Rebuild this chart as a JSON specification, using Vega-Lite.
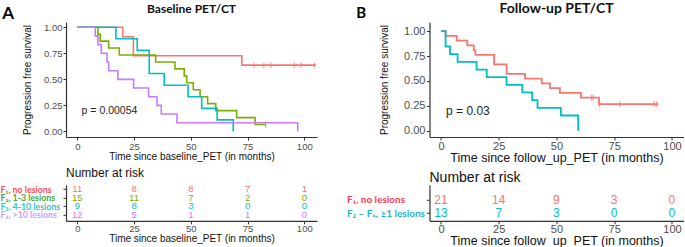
{
  "$schema": "https://vega.github.io/schema/vega-lite/v6.json",
  "background": "white",
  "padding": {"left": 0, "top": 1, "right": 0, "bottom": 0},
  "config": {
    "view": {"stroke": null},
    "font": "Liberation Sans",
    "axis": {"grid": false, "domainColor": "#333333", "domainWidth": 1.2, "tickColor": "#333333", "tickSize": 3, "labelColor": "#4d4d4d", "titleColor": "#111111", "titleFontWeight": "normal", "labelFont": "Liberation Sans", "titleFont": "Liberation Sans", "labelOverlap": false},
    "title": {"font": "Lato", "fontWeight": "bold", "color": "#111111"}
  },
  "columns": 2,
  "spacing": {"row": 47.8, "column": 112.5},
  "bounds": "flush",
  "resolve": {"scale": {"color": "independent", "x": "independent", "y": "independent"}},
  "datasets": {
    "kmA": [
      {"group": "F1", "t": 0, "s": 1}, {"group": "F1", "t": 20, "s": 0.909}, {"group": "F1", "t": 24.7, "s": 0.727}, {"group": "F1", "t": 72.5, "s": 0.636}, {"group": "F1", "t": 105, "s": 0.636},
      {"group": "F2", "t": 0, "s": 1}, {"group": "F2", "t": 9.1, "s": 0.933}, {"group": "F2", "t": 10.1, "s": 0.867}, {"group": "F2", "t": 13.8, "s": 0.8}, {"group": "F2", "t": 18.5, "s": 0.733}, {"group": "F2", "t": 34.5, "s": 0.667}, {"group": "F2", "t": 43, "s": 0.6}, {"group": "F2", "t": 47.1, "s": 0.533}, {"group": "F2", "t": 48.2, "s": 0.467}, {"group": "F2", "t": 51.1, "s": 0.4}, {"group": "F2", "t": 54.1, "s": 0.333}, {"group": "F2", "t": 57.4, "s": 0.267}, {"group": "F2", "t": 61, "s": 0.2}, {"group": "F2", "t": 70.2, "s": 0.133}, {"group": "F2", "t": 78.3, "s": 0.067}, {"group": "F2", "t": 83, "s": 0.067},
      {"group": "F3", "t": 0, "s": 1}, {"group": "F3", "t": 17, "s": 0.889}, {"group": "F3", "t": 26.4, "s": 0.778}, {"group": "F3", "t": 31.7, "s": 0.556}, {"group": "F3", "t": 38.3, "s": 0.444}, {"group": "F3", "t": 48.8, "s": 0.333}, {"group": "F3", "t": 54.8, "s": 0.222}, {"group": "F3", "t": 61.6, "s": 0.111}, {"group": "F3", "t": 68.7, "s": 0},
      {"group": "F4", "t": 0, "s": 1}, {"group": "F4", "t": 7.9, "s": 0.917}, {"group": "F4", "t": 9.1, "s": 0.833}, {"group": "F4", "t": 10.6, "s": 0.75}, {"group": "F4", "t": 13.1, "s": 0.667}, {"group": "F4", "t": 13.8, "s": 0.583}, {"group": "F4", "t": 17.9, "s": 0.5}, {"group": "F4", "t": 24.8, "s": 0.417}, {"group": "F4", "t": 31.4, "s": 0.333}, {"group": "F4", "t": 35.1, "s": 0.25}, {"group": "F4", "t": 37, "s": 0.167}, {"group": "F4", "t": 43.9, "s": 0.083}, {"group": "F4", "t": 97.1, "s": 0}
    ],
    "censA": [
      {"group": "F1", "t": 77.8, "s": 0.636}, {"group": "F1", "t": 82.2, "s": 0.636}, {"group": "F1", "t": 85.3, "s": 0.636}, {"group": "F1", "t": 95.6, "s": 0.636}, {"group": "F1", "t": 98.5, "s": 0.636}, {"group": "F1", "t": 104.5, "s": 0.636},
      {"group": "F2", "t": 83, "s": 0.067}
    ],
    "kmB": [
      {"group": "F1", "t": 0, "s": 1}, {"group": "F1", "t": 2, "s": 0.952}, {"group": "F1", "t": 6.8, "s": 0.905}, {"group": "F1", "t": 11.4, "s": 0.857}, {"group": "F1", "t": 14.2, "s": 0.81}, {"group": "F1", "t": 14.9, "s": 0.762}, {"group": "F1", "t": 23, "s": 0.667}, {"group": "F1", "t": 28.4, "s": 0.571}, {"group": "F1", "t": 36.4, "s": 0.524}, {"group": "F1", "t": 43.6, "s": 0.476}, {"group": "F1", "t": 47.2, "s": 0.429}, {"group": "F1", "t": 51.5, "s": 0.381}, {"group": "F1", "t": 60.6, "s": 0.333}, {"group": "F1", "t": 68.4, "s": 0.267}, {"group": "F1", "t": 94.1, "s": 0.267},
      {"group": "F2-F4", "t": 0, "s": 1}, {"group": "F2-F4", "t": 2, "s": 0.846}, {"group": "F2-F4", "t": 3.9, "s": 0.769}, {"group": "F2-F4", "t": 7.2, "s": 0.692}, {"group": "F2-F4", "t": 15.4, "s": 0.615}, {"group": "F2-F4", "t": 19.8, "s": 0.538}, {"group": "F2-F4", "t": 28.4, "s": 0.462}, {"group": "F2-F4", "t": 35.2, "s": 0.385}, {"group": "F2-F4", "t": 39.5, "s": 0.308}, {"group": "F2-F4", "t": 41.8, "s": 0.231}, {"group": "F2-F4", "t": 51.9, "s": 0.154}, {"group": "F2-F4", "t": 59.4, "s": 0}
    ],
    "censB": [
      {"group": "F1", "t": 65.2, "s": 0.333}, {"group": "F1", "t": 65.9, "s": 0.333}, {"group": "F1", "t": 68.7, "s": 0.267}, {"group": "F1", "t": 77.4, "s": 0.267}, {"group": "F1", "t": 92.3, "s": 0.267}, {"group": "F1", "t": 93.3, "s": 0.267}
    ],
    "riskA": [
      {"group": "F1", "row": 1, "t": 0, "n": 11}, {"group": "F1", "row": 1, "t": 25, "n": 8}, {"group": "F1", "row": 1, "t": 50, "n": 8}, {"group": "F1", "row": 1, "t": 75, "n": 7}, {"group": "F1", "row": 1, "t": 100, "n": 1},
      {"group": "F2", "row": 2, "t": 0, "n": 15}, {"group": "F2", "row": 2, "t": 25, "n": 11}, {"group": "F2", "row": 2, "t": 50, "n": 7}, {"group": "F2", "row": 2, "t": 75, "n": 2}, {"group": "F2", "row": 2, "t": 100, "n": 0},
      {"group": "F3", "row": 3, "t": 0, "n": 9}, {"group": "F3", "row": 3, "t": 25, "n": 8}, {"group": "F3", "row": 3, "t": 50, "n": 3}, {"group": "F3", "row": 3, "t": 75, "n": 0}, {"group": "F3", "row": 3, "t": 100, "n": 0},
      {"group": "F4", "row": 4, "t": 0, "n": 12}, {"group": "F4", "row": 4, "t": 25, "n": 5}, {"group": "F4", "row": 4, "t": 50, "n": 1}, {"group": "F4", "row": 4, "t": 75, "n": 1}, {"group": "F4", "row": 4, "t": 100, "n": 0}
    ],
    "riskB": [
      {"group": "F1", "row": 1, "t": 0, "n": 21}, {"group": "F1", "row": 1, "t": 25, "n": 14}, {"group": "F1", "row": 1, "t": 50, "n": 9}, {"group": "F1", "row": 1, "t": 75, "n": 3}, {"group": "F1", "row": 1, "t": 100, "n": 0},
      {"group": "F2-F4", "row": 2, "t": 0, "n": 13}, {"group": "F2-F4", "row": 2, "t": 25, "n": 7}, {"group": "F2-F4", "row": 2, "t": 50, "n": 3}, {"group": "F2-F4", "row": 2, "t": 75, "n": 0}, {"group": "F2-F4", "row": 2, "t": 100, "n": 0}
    ]
  },
  "concat": [
    {
      "width": 251,
      "height": 115,
      "title": {"text": "Baseline PET/CT", "fontSize": 12, "offset": -11},
      "encoding": {
        "x": {"field": "t", "type": "quantitative", "scale": {"domain": [-4.98, 105.6], "nice": false, "zero": false}, "axis": {"values": [0, 25, 50, 75, 100], "labelFontSize": 9.5, "labelPadding": 1, "titleFontSize": 10, "titlePadding": 1, "title": "Time since baseline_PET (in months)"}},
        "y": {"field": "s", "type": "quantitative", "scale": {"domain": [-0.053, 1.05], "nice": false, "zero": false}, "axis": {"values": [0, 0.25, 0.5, 0.75, 1], "format": ".2f", "labelFontSize": 9.5, "labelPadding": 1, "titleFontSize": 10, "titlePadding": 11, "title": "Progression free survival"}}
      },
      "layer": [
        {
          "data": {"name": "kmA"},
          "mark": {"type": "line", "interpolate": "step-after", "strokeWidth": 1.6},
          "encoding": {"color": {"field": "group", "type": "nominal", "scale": {"domain": ["F1", "F2", "F3", "F4"], "range": ["#F8766D", "#7CAE00", "#00BFC4", "#C77CFF"]}, "legend": null}}
        },
        {
          "data": {"name": "censA"},
          "mark": {"type": "tick", "orient": "vertical", "size": 6, "thickness": 1.2},
          "encoding": {"color": {"field": "group", "type": "nominal", "scale": {"domain": ["F1", "F2", "F3", "F4"], "range": ["#F8766D", "#7CAE00", "#00BFC4", "#C77CFF"]}, "legend": null}}
        },
        {
          "data": {"values": [{"t": 1.9, "s": 0.192, "label": "p = 0.00054"}]},
          "mark": {"type": "text", "align": "left", "baseline": "middle", "fontSize": 10.5, "font": "Liberation Sans", "color": "#222222"},
          "encoding": {"text": {"field": "label"}}
        },
        {
          "data": {"values": [{"t": -30.5, "s": 1.122, "label": "A"}]},
          "mark": {"type": "text", "align": "center", "baseline": "middle", "fontSize": 17, "fontWeight": "bold", "font": "Lato", "color": "#000000"},
          "encoding": {"text": {"field": "label"}}
        }
      ]
    },
    {
      "width": 254,
      "height": 115,
      "title": {"text": "Follow-up PET/CT", "fontSize": 14, "offset": -9.5},
      "encoding": {
        "x": {"field": "t", "type": "quantitative", "scale": {"domain": [-4.97, 105.0], "nice": false, "zero": false}, "axis": {"values": [0, 25, 50, 75, 100], "labelFontSize": 11, "labelPadding": 0, "titleFontSize": 12.5, "titlePadding": 0, "title": "Time since follow_up_PET (in months)"}},
        "y": {"field": "s", "type": "quantitative", "scale": {"domain": [-0.062, 1.092], "nice": false, "zero": false}, "axis": {"values": [0, 0.25, 0.5, 0.75, 1], "format": ".2f", "labelFontSize": 11, "labelPadding": 1.5, "titleFontSize": 10, "titlePadding": 14, "title": "Progression free survival"}}
      },
      "layer": [
        {
          "data": {"name": "kmB"},
          "mark": {"type": "line", "interpolate": "step-after", "strokeWidth": 1.8},
          "encoding": {"color": {"field": "group", "type": "nominal", "scale": {"domain": ["F1", "F2-F4"], "range": ["#F8766D", "#00BFC4"]}, "legend": null}}
        },
        {
          "data": {"name": "censB"},
          "mark": {"type": "tick", "orient": "vertical", "size": 6, "thickness": 1.2},
          "encoding": {"color": {"field": "group", "type": "nominal", "scale": {"domain": ["F1", "F2-F4"], "range": ["#F8766D", "#00BFC4"]}, "legend": null}}
        },
        {
          "data": {"values": [{"t": 2.2, "s": 0.194, "label": "p = 0.03"}]},
          "mark": {"type": "text", "align": "left", "baseline": "middle", "fontSize": 12, "font": "Liberation Sans", "color": "#222222"},
          "encoding": {"text": {"field": "label"}}
        },
        {
          "data": {"values": [{"t": -34.6, "s": 1.182, "label": "B"}]},
          "mark": {"type": "text", "align": "center", "baseline": "middle", "fontSize": 15, "fontWeight": "bold", "font": "Lato", "color": "#000000"},
          "encoding": {"text": {"field": "label"}}
        }
      ]
    },
    {
      "width": 251,
      "height": 36,
      "title": {"text": "Number at risk", "anchor": "start", "frame": "group", "font": "Liberation Sans", "fontWeight": "normal", "fontSize": 12, "offset": 4},
      "data": {"name": "riskA"},
      "mark": {"type": "text", "fontSize": 9.5, "baseline": "middle"},
      "encoding": {
        "x": {"field": "t", "type": "quantitative", "scale": {"domain": [-4.98, 105.6], "nice": false, "zero": false}, "axis": {"values": [0, 25, 50, 75, 100], "labelFontSize": 9.5, "labelPadding": 0, "titleFontSize": 10, "titlePadding": 0, "title": "Time since baseline_PET (in months)"}},
        "y": {"field": "row", "type": "quantitative", "scale": {"domain": [0.484, 4.704], "reverse": true, "nice": false, "zero": false}, "axis": {"values": [1, 2, 3, 4], "title": null, "labelAlign": "left", "labelBaseline": "middle", "labelPadding": 63, "labelLimit": 200, "labelBound": false, "labelFont": "Lato", "labelFontWeight": "bold", "labelFontSize": 8.8,
          "labelExpr": "datum.value == 1 ? 'F₁, no lesions' : datum.value == 2 ? 'F₂, 1-3 lesions' : datum.value == 3 ? 'F₃, 4-10 lesions' : 'F₄, >10 lesions'",
          "labelColor": {"condition": [{"test": "datum.value == 1", "value": "#FF4B5A"}, {"test": "datum.value == 2", "value": "#47A83A"}, {"test": "datum.value == 3", "value": "#2CC3CF"}], "value": "#C9A0FF"}}},
        "text": {"field": "n", "type": "quantitative"},
        "color": {"field": "group", "type": "nominal", "scale": {"domain": ["F1", "F2", "F3", "F4"], "range": ["#F8766D", "#7CAE00", "#00BFC4", "#C77CFF"]}, "legend": null}
      }
    },
    {
      "width": 254,
      "height": 36,
      "title": {"text": "Number at risk", "anchor": "start", "frame": "group", "font": "Liberation Sans", "fontWeight": "normal", "fontSize": 14, "offset": 0},
      "data": {"name": "riskB"},
      "mark": {"type": "text", "fontSize": 12, "baseline": "middle"},
      "encoding": {
        "x": {"field": "t", "type": "quantitative", "scale": {"domain": [-4.97, 105.0], "nice": false, "zero": false}, "axis": {"values": [0, 25, 50, 75, 100], "labelFontSize": 11, "labelPadding": 0, "titleFontSize": 12.5, "titlePadding": 0, "title": "Time since follow_up_PET (in months)"}},
        "y": {"field": "row", "type": "quantitative", "scale": {"domain": [-0.119, 2.568], "reverse": true, "nice": false, "zero": false}, "axis": {"values": [1, 2], "title": null, "labelAlign": "left", "labelBaseline": "middle", "labelPadding": 80, "labelLimit": 200, "labelBound": false, "labelFont": "Lato", "labelFontWeight": "bold", "labelFontSize": 10,
          "labelExpr": "datum.value == 1 ? 'F₁, no lesions' : 'F₂ – F₄, ≥1 lesions'",
          "labelColor": {"condition": {"test": "datum.value == 1", "value": "#FF3D4F"}, "value": "#1EB4C8"}}},
        "text": {"field": "n", "type": "quantitative"},
        "color": {"field": "group", "type": "nominal", "scale": {"domain": ["F1", "F2-F4"], "range": ["#F8766D", "#00BFC4"]}, "legend": null}
      }
    }
  ]
}
